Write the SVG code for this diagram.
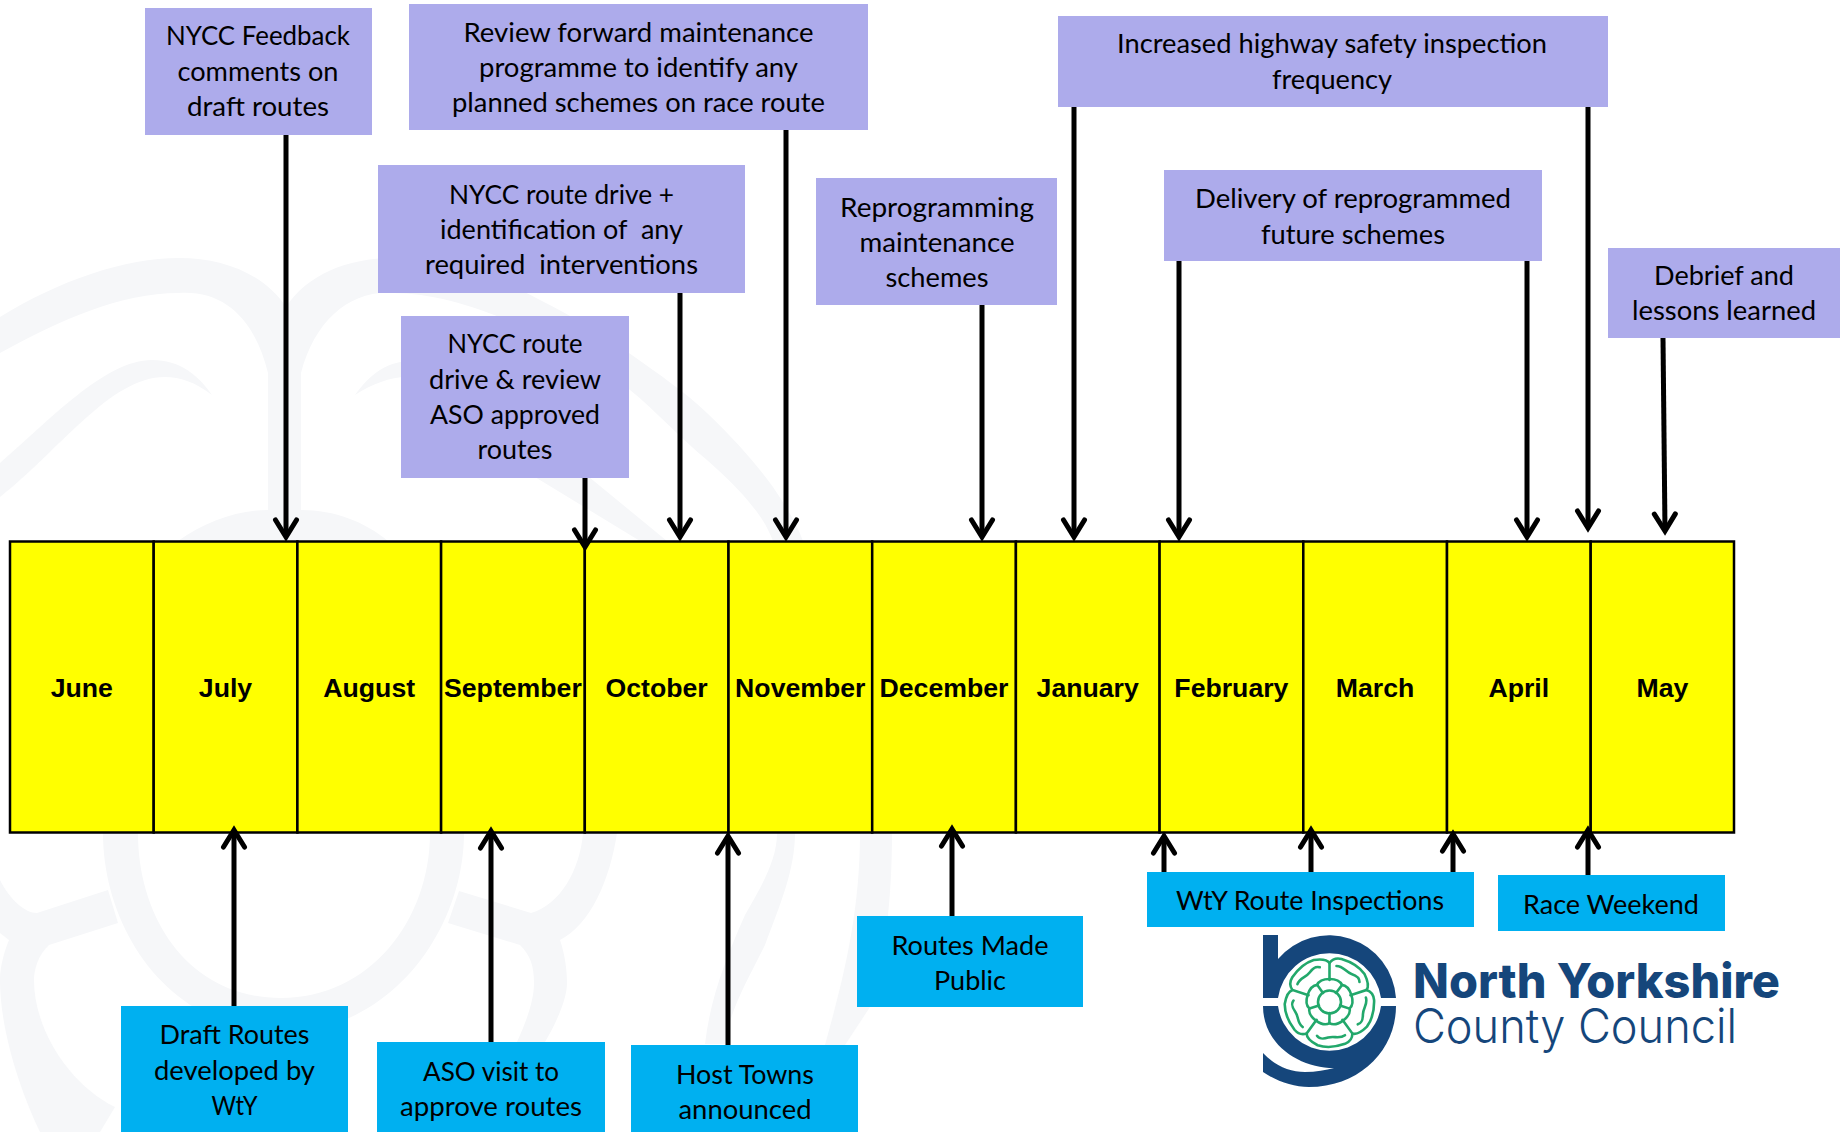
<svg xmlns="http://www.w3.org/2000/svg" xmlns:xlink="http://www.w3.org/1999/xlink" width="1840" height="1132" viewBox="0 0 1840 1132">
<style>
.wm{fill:#f6f7f9}
.p{fill:#adabeb}
.b{fill:#00b0f0}
.t{font-family:"Lato","Carlito","Liberation Sans",sans-serif;font-size:26.5px;text-anchor:middle;fill:#000}
.m{font-family:"Liberation Sans",Arial,sans-serif;font-weight:700;font-size:26.67px;text-anchor:middle;fill:#000}
.c{fill:#ffff00;stroke:#000;stroke-width:2.5}
.a{stroke:#000;stroke-width:5;fill:none;marker-end:url(#ah)}
.g{fill:none;stroke:#22a86b;stroke-width:2.6;stroke-linecap:round}
.lg{fill:#15467b}
</style>
<defs>
<marker id="ah" markerUnits="userSpaceOnUse" markerWidth="30" markerHeight="30" refX="0" refY="0" orient="auto" overflow="visible">
<path d="M-17,-10.5 L0,0 L-17,10.5" fill="none" stroke="#000" stroke-width="5" stroke-linecap="round"/>
</marker>
<g id="petal">
<path d="M0,-22 V-39 C3,-43 8,-44 12,-43 C22,-40 30,-35 35,-28 C38,-22 40,-16 37,-12"/>
<path d="M7,-36 C14,-36 16,-30 22,-28 C28,-26 30,-24 30,-20"/>
<path d="M-12.5,-17 C-9,-25 9,-25 12.5,-17 L6.5,-9"/>
</g>
</defs>
<g id="watermark">
<path class="wm" d="M0,317 C60,280 125,258 179,258 C225,258 265,275 286,307 C307,275 347,258 393,258 C440,262 490,272 540,300 C570,315 600,333 629,353 C660,375 685,392 707,413 C735,440 755,462 773,487 C785,505 796,522 803,541 H773 C768,528 762,518 753,507 C740,490 725,476 707,460 C680,438 655,410 630,390 C570,345 470,293 393,293 C350,290 315,320 301,373 V510 C335,510 365,522 388,541 H178 C205,522 237,510 268,510 V373 C255,320 225,290 179,293 C120,293 60,320 0,353 Z"/>
<path class="wm" d="M0,463 C50,420 105,360 152,360 C180,360 198,375 212,395 C195,382 180,377 165,377 C110,377 60,450 0,497 Z"/>
<path class="wm" d="M355,395 C370,375 385,360 420,360 C470,362 530,425 572,463 L667,541 H640 L535,477 C500,440 455,377 407,377 C390,377 372,384 355,395 Z"/>
<path class="wm" d="M103,833 H138 C138,920 190,998 281,998 C370,998 430,920 430,833 H464 C464,930 390,1032 283,1032 C170,1032 103,930 103,833 Z"/>
<path class="wm" d="M0,880 C10,900 25,913 37,913 L108,890 L118,923 L49,945 C38,955 34,970 34,980 C34,1030 70,1085 115,1107 L100,1132 H40 C20,1090 0,1030 0,980 C0,965 5,950 9,940 L0,933 Z"/>
<path class="wm" d="M617,833 C610,880 590,925 560,940 C565,955 567,970 567,983 C567,1000 555,1025 545,1042 H517 C527,1020 534,1000 534,983 C534,965 530,955 520,945 L448,923 L459,891 L531,913 C560,905 580,870 583,833 Z"/>
<path class="wm" d="M777,833 H795 C795,870 780,905 765,945 C745,985 730,1010 725,1044 H705 C710,1000 725,960 745,915 C762,885 777,860 777,833 Z"/>
<path class="wm" d="M860,833 H892 C892,900 885,960 870,1007 L845,1045 H825 C840,990 860,920 860,833 Z"/>
</g>
<g id="timeline">
<g id="m-june"><rect class="c" x="10" y="541.5" width="143.7" height="291"/><text class="m" x="81.8" y="697">June</text></g>
<g id="m-july"><rect class="c" x="153.7" y="541.5" width="143.7" height="291"/><text class="m" x="225.5" y="697">July</text></g>
<g id="m-august"><rect class="c" x="297.4" y="541.5" width="143.7" height="291"/><text class="m" x="369.2" y="697">August</text></g>
<g id="m-september"><rect class="c" x="441.1" y="541.5" width="143.7" height="291"/><text class="m" x="512.9" y="697">September</text></g>
<g id="m-october"><rect class="c" x="584.8" y="541.5" width="143.7" height="291"/><text class="m" x="656.6" y="697">October</text></g>
<g id="m-november"><rect class="c" x="728.5" y="541.5" width="143.7" height="291"/><text class="m" x="800.3" y="697">November</text></g>
<g id="m-december"><rect class="c" x="872.2" y="541.5" width="143.7" height="291"/><text class="m" x="944" y="697">December</text></g>
<g id="m-january"><rect class="c" x="1015.9" y="541.5" width="143.7" height="291"/><text class="m" x="1087.7" y="697">January</text></g>
<g id="m-february"><rect class="c" x="1159.6" y="541.5" width="143.7" height="291"/><text class="m" x="1231.4" y="697">February</text></g>
<g id="m-march"><rect class="c" x="1303.3" y="541.5" width="143.7" height="291"/><text class="m" x="1375.1" y="697">March</text></g>
<g id="m-april"><rect class="c" x="1447" y="541.5" width="143.7" height="291"/><text class="m" x="1518.8" y="697">April</text></g>
<g id="m-may"><rect class="c" x="1590.7" y="541.5" width="143.3" height="291"/><text class="m" x="1662.4" y="697">May</text></g>
</g>
<g id="n-feedback"><rect class="p" x="145" y="8" width="227" height="127"/><text class="t" lengthAdjust="spacingAndGlyphs" textLength="184" x="258" y="45">NYCC Feedback</text><text class="t" lengthAdjust="spacingAndGlyphs" textLength="161" x="258" y="81">comments on</text><text class="t" lengthAdjust="spacingAndGlyphs" textLength="142" x="258" y="116">draft routes</text></g>
<g id="n-review"><rect class="p" x="409" y="4" width="459" height="126"/><text class="t" lengthAdjust="spacingAndGlyphs" textLength="350" x="638.5" y="42">Review forward maintenance</text><text class="t" lengthAdjust="spacingAndGlyphs" textLength="319" x="638.5" y="77">programme to identify any</text><text class="t" lengthAdjust="spacingAndGlyphs" textLength="373" x="638.5" y="112">planned schemes on race route</text></g>
<g id="n-drive"><rect class="p" x="378" y="165" width="367" height="128"/><text class="t" lengthAdjust="spacingAndGlyphs" textLength="225" x="561.5" y="204">NYCC route drive +</text><text class="t" xml:space="preserve" lengthAdjust="spacingAndGlyphs" textLength="243" x="561.5" y="239">identification of  any</text><text class="t" xml:space="preserve" lengthAdjust="spacingAndGlyphs" textLength="273" x="561.5" y="274">required  interventions</text></g>
<g id="n-aso-review"><rect class="p" x="401" y="316" width="228" height="162"/><text class="t" lengthAdjust="spacingAndGlyphs" textLength="135" x="515" y="353">NYCC route</text><text class="t" lengthAdjust="spacingAndGlyphs" textLength="172" x="515" y="389">drive &amp; review</text><text class="t" lengthAdjust="spacingAndGlyphs" textLength="170" x="515" y="424">ASO approved</text><text class="t" lengthAdjust="spacingAndGlyphs" textLength="75" x="515" y="459">routes</text></g>
<g id="n-reprogramming"><rect class="p" x="816" y="178" width="241" height="127"/><text class="t" lengthAdjust="spacingAndGlyphs" textLength="194" x="937" y="217">Reprogramming</text><text class="t" lengthAdjust="spacingAndGlyphs" textLength="155" x="937" y="252">maintenance</text><text class="t" lengthAdjust="spacingAndGlyphs" textLength="103" x="937" y="287">schemes</text></g>
<g id="n-increased"><rect class="p" x="1058" y="16" width="550" height="91"/><text class="t" lengthAdjust="spacingAndGlyphs" textLength="430" x="1332" y="53">Increased highway safety inspection</text><text class="t" lengthAdjust="spacingAndGlyphs" textLength="120" x="1332" y="89">frequency</text></g>
<g id="n-delivery"><rect class="p" x="1164" y="170" width="378" height="91"/><text class="t" lengthAdjust="spacingAndGlyphs" textLength="316" x="1353" y="208">Delivery of reprogrammed</text><text class="t" lengthAdjust="spacingAndGlyphs" textLength="184" x="1353" y="244">future schemes</text></g>
<g id="n-debrief"><rect class="p" x="1608" y="248" width="232" height="90"/><text class="t" lengthAdjust="spacingAndGlyphs" textLength="140" x="1724" y="285">Debrief and</text><text class="t" lengthAdjust="spacingAndGlyphs" textLength="184" x="1724" y="320">lessons learned</text></g>
<g id="n-routes-public"><rect class="b" x="857" y="916" width="226" height="91"/><text class="t" lengthAdjust="spacingAndGlyphs" textLength="157" x="970" y="955">Routes Made</text><text class="t" lengthAdjust="spacingAndGlyphs" textLength="72" x="970" y="990">Public</text></g>
<g id="n-inspections"><rect class="b" x="1147" y="872" width="327" height="55"/><text class="t" lengthAdjust="spacingAndGlyphs" textLength="268" x="1310" y="910">WtY Route Inspections</text></g>
<g id="n-race"><rect class="b" x="1498" y="875" width="227" height="56"/><text class="t" lengthAdjust="spacingAndGlyphs" textLength="176" x="1611" y="914">Race Weekend</text></g>
<g id="n-draft"><rect class="b" x="121" y="1006" width="227" height="126"/><text class="t" lengthAdjust="spacingAndGlyphs" textLength="150" x="234.5" y="1044">Draft Routes</text><text class="t" lengthAdjust="spacingAndGlyphs" textLength="161" x="234.5" y="1080">developed by</text><text class="t" lengthAdjust="spacingAndGlyphs" textLength="46" x="234.5" y="1115">WtY</text></g>
<g id="n-aso-visit"><rect class="b" x="377" y="1042" width="228" height="90"/><text class="t" lengthAdjust="spacingAndGlyphs" textLength="136" x="491" y="1081">ASO visit to</text><text class="t" lengthAdjust="spacingAndGlyphs" textLength="182" x="491" y="1116">approve routes</text></g>
<g id="n-host"><rect class="b" x="631" y="1045" width="227" height="87"/><text class="t" lengthAdjust="spacingAndGlyphs" textLength="138" x="745" y="1084">Host Towns</text><text class="t" lengthAdjust="spacingAndGlyphs" textLength="133" x="745" y="1119">announced</text></g>
<g id="connectors">
<line class="a" x1="286" y1="135" x2="286" y2="537"/>
<line class="a" x1="585" y1="478" x2="585" y2="547"/>
<line class="a" x1="680" y1="293" x2="680" y2="537"/>
<line class="a" x1="786" y1="130" x2="786" y2="537"/>
<line class="a" x1="982" y1="305" x2="982" y2="537"/>
<line class="a" x1="1074" y1="107" x2="1074" y2="537"/>
<line class="a" x1="1179" y1="261" x2="1179" y2="537"/>
<line class="a" x1="1527" y1="261" x2="1527" y2="537"/>
<line class="a" x1="1588" y1="107" x2="1588" y2="528"/>
<line class="a" x1="1663" y1="338" x2="1665" y2="531"/>
<line class="a" x1="234" y1="1006" x2="234" y2="830"/>
<line class="a" x1="491" y1="1042" x2="491" y2="831"/>
<line class="a" x1="728" y1="1045" x2="728" y2="836"/>
<line class="a" x1="952" y1="916" x2="952" y2="829"/>
<line class="a" x1="1164" y1="872" x2="1164" y2="836"/>
<line class="a" x1="1311" y1="872" x2="1311" y2="830"/>
<line class="a" x1="1453" y1="872" x2="1453" y2="834"/>
<line class="a" x1="1588" y1="875" x2="1588" y2="830"/>
</g>
<g id="logo">
<path class="lg" d="M1263,935 H1278 V959 A67,67 0 0 1 1396,998 H1381 A52,52 0 0 0 1278,998 H1263 Z"/>
<path class="lg" d="M1263,1006 H1278 A52,52 0 0 0 1381,1006 H1396 C1396,1050 1360,1087 1309,1087 C1293,1087 1276,1081 1263,1072 V1053 C1275,1066 1290,1072 1305,1072 C1316,1072 1326,1070 1334,1068 C1300,1068 1263,1045 1263,1006 Z"/>
<g class="g" transform="translate(1329.5,1002)">
<circle r="11.5"/>
<use xlink:href="#petal" href="#petal"/>
<use xlink:href="#petal" href="#petal" transform="rotate(72)"/>
<use xlink:href="#petal" href="#petal" transform="rotate(144)"/>
<use xlink:href="#petal" href="#petal" transform="rotate(216)"/>
<use xlink:href="#petal" href="#petal" transform="rotate(288)"/>
</g>
<text x="1413" y="998" font-family="Inter,Roboto,'Liberation Sans',sans-serif" font-weight="800" font-size="48" fill="#15467b" textLength="367" lengthAdjust="spacingAndGlyphs">North Yorkshire</text>
<text x="1413" y="1043" font-family="Inter,Roboto,'Liberation Sans',sans-serif" font-weight="300" font-size="48" fill="#15467b" textLength="324" lengthAdjust="spacingAndGlyphs">County Council</text>
</g>
</svg>
